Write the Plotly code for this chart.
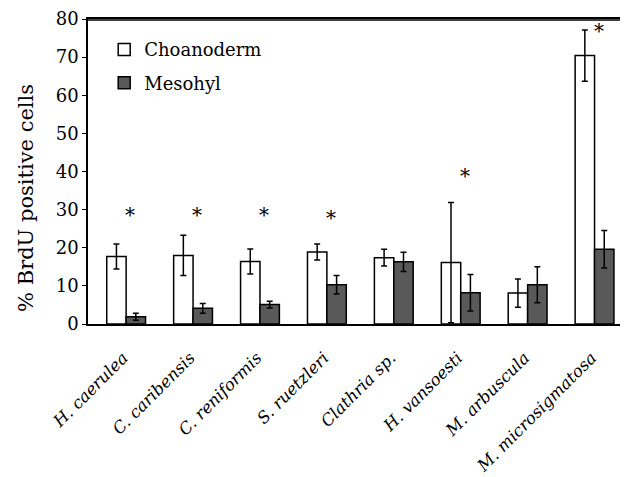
import plotly.graph_objects as go

categories = ["H. caerulea", "C. caribensis", "C. reniformis", "S. ruetzleri",
              "Clathria sp.", "H. vansoesti", "M. arbuscula", "M. microsigmatosa"]
choanoderm = [17.7, 18.0, 16.4, 18.9, 17.4, 16.1, 8.1, 70.4]
choanoderm_err = [3.3, 5.3, 3.3, 2.1, 2.2, 15.8, 3.7, 6.7]
mesohyl = [1.9, 4.1, 5.1, 10.3, 16.3, 8.2, 10.3, 19.6]
mesohyl_err = [0.9, 1.3, 0.9, 2.4, 2.5, 4.8, 4.7, 4.9]
star_cats = [0, 1, 2, 3, 5, 7]
star_y = [28.6, 28.6, 28.6, 27.8, 38.8, 76.9]
y_title = "% BrdU positive cells"

x_idx = list(range(len(categories)))
serif = "DejaVu Serif"

fig = go.Figure()
fig.add_trace(go.Bar(
    x=x_idx, y=choanoderm, name="Choanoderm",
    marker=dict(color="white", line=dict(color="black", width=1.5)),
    error_y=dict(type="data", array=choanoderm_err, color="black", thickness=1.5, width=3),
    legendgroup="a",
))
fig.add_trace(go.Bar(
    x=x_idx, y=mesohyl, name="Mesohyl",
    marker=dict(color="#595959", line=dict(color="black", width=1.5)),
    error_y=dict(type="data", array=mesohyl_err, color="black", thickness=1.5, width=3),
    legendgroup="b",
))

for c, yv in zip(star_cats, star_y):
    fig.add_annotation(x=c + 0.06, y=yv, text="*", showarrow=False,
                       font=dict(family=serif, size=20, color="black"),
                       xref="x", yref="y", yanchor="middle")

# y-axis title (placed like the original, slightly below the plot centre)
fig.add_annotation(x=-0.115, y=0.413, xref="paper", yref="paper", text=y_title,
                   textangle=-90, showarrow=False, xanchor="center", yanchor="middle",
                   font=dict(family=serif, size=21, color="black"))

# top frame line of the plot area
fig.add_shape(type="line", xref="paper", yref="paper", x0=0, x1=1, y0=0.997, y1=0.997,
              line=dict(color="black", width=1.5), layer="above")

fig.update_layout(
    width=620, height=469,
    margin=dict(l=80, r=0, t=11, b=153, autoexpand=False),
    paper_bgcolor="white", plot_bgcolor="white",
    barmode="group", bargap=0.42, bargroupgap=0,
    font=dict(family=serif, size=18, color="black"),
    showlegend=True,
    legend=dict(x=0.03, y=0.96, xanchor="left", yanchor="top",
                bgcolor="rgba(0,0,0,0)", tracegroupgap=7,
                font=dict(family=serif, size=18, color="black")),
    xaxis=dict(
        range=[-0.57, 7.5], automargin=False,
        tickmode="array", tickvals=x_idx,
        ticktext=["<i>%s</i>" % c for c in categories],
        tickangle=-45, ticks="", showline=True, linecolor="black", linewidth=1.5,
        mirror=True,
        showgrid=False, zeroline=False,
        tickfont=dict(family=serif, size=16.5, color="black"),
        ticklabelshift=-3, ticklabelstandoff=16, ticklabeloverflow="allow",
    ),
    yaxis=dict(
        range=[0, 80], tickvals=list(range(0, 81, 10)), automargin=False,
        ticks="outside", ticklen=4, tickcolor="black", tickwidth=1,
        showline=True, linecolor="black", linewidth=1.5,
        showgrid=False, zeroline=False, ticklabeloverflow="allow",
        tickfont=dict(family=serif, size=18, color="black"),
    ),
)

fig.write_html("out.html")
